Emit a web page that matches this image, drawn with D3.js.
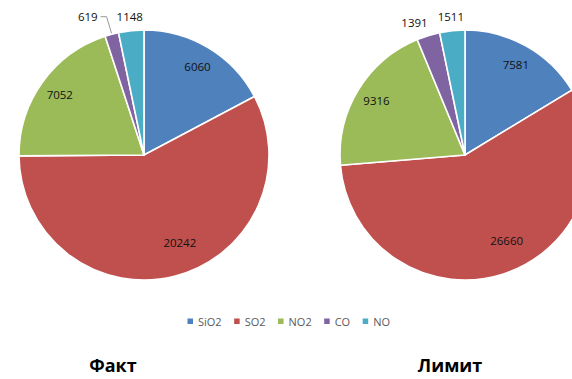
<!DOCTYPE html>
<html>
<head>
<meta charset="utf-8">
<script src="https://cdn.jsdelivr.net/npm/d3@7"></script>
<style>
  html, body { margin: 0; padding: 0; background: #fff; }
  svg { display: block; }
</style>
</head>
<body>
<svg id="chart" width="572" height="379"></svg>
<script>
// Emission components
const categories = ["SiO2", "SO2", "NO2", "CO", "NO"];
const factValues = [6060, 20242, 7052, 619, 1148];
const limitValues = [7581, 26660, 9316, 1391, 1511];
const titles = ["Факт", "Лимит"];
const colors = ["#4F81BD", "#C0504D", "#9BBB59", "#8064A2", "#4BACC6"];

const svg = d3.select("#chart");
const R = 125;
const FONT = "'Open Sans', 'Liberation Sans', sans-serif";

const color = d3.scaleOrdinal().domain(categories).range(colors);

// Slices start at 12 o'clock and run clockwise in category order
const pie = d3.pie().sort(null).value(d => d.value);
const arc = d3.arc().innerRadius(0).outerRadius(R);

// Horizontal placement of the two pies and titles
const xPie = d3.scalePoint().domain(titles).range([144, 465]);
const xTitle = d3.scalePoint().domain(titles).range([113, 450]);
const cy = 155;

function drawPie(values, title) {
  const data = categories.map((c, i) => ({ cat: c, value: values[i] }));
  const total = d3.sum(values);
  const arcs = pie(data);
  const g = svg.append("g").attr("transform", `translate(${xPie(title)},${cy})`);

  g.selectAll("path.slice").data(arcs).join("path")
    .attr("class", "slice")
    .attr("d", arc)
    .attr("fill", d => color(d.data.cat))
    .attr("stroke", "#fff")
    .attr("stroke-width", 1.6)
    .attr("stroke-linejoin", "round");

  const mid = d => (d.startAngle + d.endAngle) / 2;
  const inside = arcs.filter(d => d.value / total >= 0.08);
  const outside = arcs.filter(d => d.value / total < 0.08);

  // Labels inside large slices; the widest slice keeps its label a bit nearer the centre
  const maxVal = d3.max(values);
  g.selectAll("text.in").data(inside).join("text")
    .attr("class", "in")
    .attr("x", d => Math.sin(mid(d) - (d.value === maxVal ? 0.14 : 0)) * R * (d.value === maxVal ? 0.76 : 0.83))
    .attr("y", d => -Math.cos(mid(d) - (d.value === maxVal ? 0.14 : 0)) * R * (d.value === maxVal ? 0.76 : 0.83))
    .attr("text-anchor", "middle")
    .attr("dominant-baseline", "central")
    .attr("font-family", FONT)
    .attr("font-size", 11.5)
    .attr("fill", "#111")
    .text(d => d.value);

  // Labels outside small slices, with collision avoidance
  const LR = R + 14;
  const outTexts = g.selectAll("text.out").data(outside).join("text")
    .attr("class", "out")
    .attr("text-anchor", "middle")
    .attr("dominant-baseline", "central")
    .attr("font-family", FONT)
    .attr("font-size", 11.5)
    .attr("fill", "#111")
    .text(d => d.value);

  const items = [];
  outTexts.each(function(d) {
    const w = this.getComputedTextLength();
    const x0 = Math.sin(mid(d)) * LR;
    const y0 = -Math.cos(mid(d)) * LR;
    items.push({ node: this, d, w, x0, y0, x: x0, y: y0 });
  });
  // push earlier labels left so that they clear the next one
  const GAP = 10;
  for (let i = items.length - 2; i >= 0; i--) {
    const a = items[i], b = items[i + 1];
    const limit = (b.x - b.w / 2) - GAP;
    if (a.x + a.w / 2 > limit) a.x = limit - a.w / 2;
  }
  items.forEach(it => {
    const shifted = it.x0 - it.x;
    if (shifted > it.w / 2) {
      // label left its slice: add room for a leader line
      it.x -= 9;
      const lx = it.x + it.w / 2 + 3;
      const px = Math.sin(mid(it.d)) * (R + 1);
      const py = -Math.cos(mid(it.d)) * (R + 1);
      g.append("path")
        .attr("d", `M${lx},${it.y0 - 4} L${lx + 6},${it.y0 - 4} L${px},${py}`)
        .attr("fill", "none")
        .attr("stroke", "#8c8c8c")
        .attr("stroke-width", 0.9);
      it.y = it.y0 - 4;
    }
    d3.select(it.node).attr("x", it.x).attr("y", it.y);
  });

  svg.append("text")
    .attr("x", xTitle(title))
    .attr("y", 372)
    .attr("text-anchor", "middle")
    .attr("font-family", FONT)
    .attr("font-weight", "bold")
    .attr("font-size", 18)
    .attr("fill", "#000")
    .text(title);
}

drawPie(factValues, titles[0]);
drawPie(limitValues, titles[1]);

// Legend: marker + label, laid out left to right
const legend = svg.append("g").attr("transform", "translate(0,321)");
let lx = 190;
categories.forEach(c => {
  const gi = legend.append("g").attr("transform", `translate(${lx},0)`);
  gi.append("rect")
    .attr("x", -2.5).attr("y", -2.5).attr("width", 5.5).attr("height", 5.5)
    .attr("fill", color(c));
  const t = gi.append("text")
    .attr("x", 8).attr("y", 0)
    .attr("dominant-baseline", "central")
    .attr("font-family", FONT)
    .attr("font-size", 11)
    .attr("fill", "#595959")
    .text(c);
  lx += 8 + t.node().getComputedTextLength() + 15;
});
</script>
</body>
</html>
